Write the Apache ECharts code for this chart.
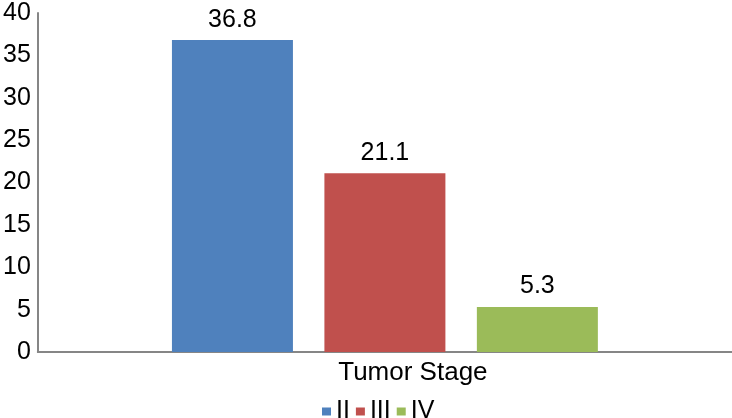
<!DOCTYPE html>
<html><head><meta charset="utf-8">
<script src="https://cdn.jsdelivr.net/npm/echarts@6/dist/echarts.min.js"></script>
<style>html,body{margin:0;padding:0;background:#fff}#c{width:732px;height:418px}</style>
</head><body><div id="c"></div>
<script>
const categories = ['Tumor Stage'];
const seriesNames = ['II', 'III', 'IV'];
const valuesII = [36.8];
const valuesIII = [21.1];
const valuesIV = [5.3];
const colors = ['#4f81bd', '#c0504d', '#9bbb59'];
const yTicks = [0, 5, 10, 15, 20, 25, 30, 35, 40];

const font = 'Liberation Sans, Arial, sans-serif';
const data = [valuesII, valuesIII, valuesIV];
const chart = echarts.init(document.getElementById('c'));
chart.setOption({
  animation: false,
  grid: {left: 34, right: 0, top: 13, bottom: 66},
  legend: {
    top: 394, left: 317, itemWidth: 9, itemHeight: 8, itemGap: 6,
    icon: 'rect',
    textStyle: {fontFamily: font, fontSize: 25, color: '#000'},
    data: seriesNames
  },
  xAxis: {
    type: 'category', data: categories,
    axisLine: {lineStyle: {color: '#868686', width: 2}},
    axisTick: {show: false},
    axisLabel: {fontFamily: font, fontSize: 26, color: '#000', margin: 8, padding: [0, 0, 0, 56]}
  },
  yAxis: {
    type: 'value', min: yTicks[0], max: yTicks[yTicks.length - 1], interval: 5,
    axisLine: {show: true, lineStyle: {color: '#868686', width: 2}},
    axisTick: {show: false},
    splitLine: {show: false},
    axisLabel: {fontFamily: font, fontSize: 25, color: '#000', margin: 7}
  },
  series: seriesNames.map((n, i) => ({
    name: n, type: 'bar', data: data[i], barWidth: 121, barGap: '26%',
    itemStyle: {color: colors[i]},
    label: {show: true, position: 'top', distance: 8, fontFamily: font, fontSize: 25, color: '#000'}
  }))
});
</script></body></html>
